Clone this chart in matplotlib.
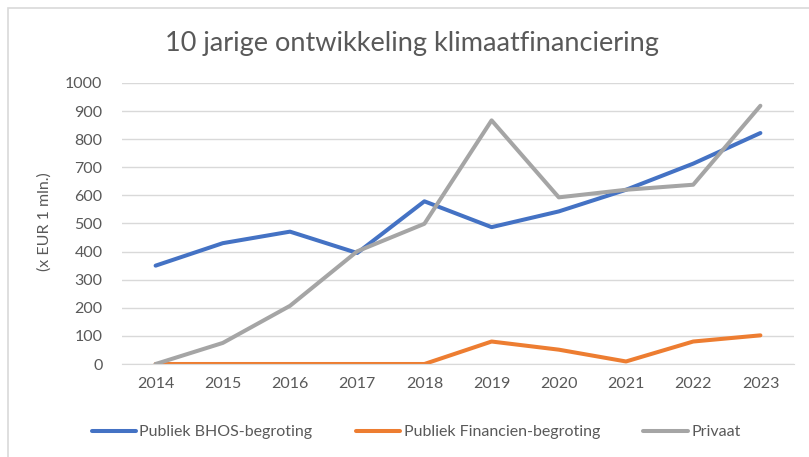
import numpy as np
from matplotlib import pyplot as plt
from matplotlib.patches import Rectangle

plt.rcParams['font.family'] = ['Lato', 'DejaVu Sans']

# Data (x EUR 1 mln.)
years = ['2014', '2015', '2016', '2017', '2018', '2019', '2020', '2021', '2022', '2023']
bhos = [350, 430, 471, 395, 579, 487, 543, 620, 713, 822]
financien = [0, 0, 0, 0, 0, 80, 51, 9, 80, 102]
privaat = [0, 75, 207, 401, 499, 867, 593, 620, 638, 919]

series_names = ['Publiek BHOS-begroting', 'Publiek Financien-begroting', 'Privaat']
colors = ['#4472C4', '#ED7D31', '#A5A5A5']

fig = plt.figure(figsize=(8.09, 4.57), dpi=100)
W, H = 809, 457

# chart frame (light border, cut off at right/bottom)
fig.patches.append(Rectangle((8 / W, -0.01), 1.0, (457 - 8) / H + 0.01,
                             transform=fig.transFigure, fill=False,
                             edgecolor='#D9D9D9', linewidth=1.2))

ax = fig.add_axes([122 / W, 1 - 364 / H, (794 - 122) / W, (364 - 83) / H])

x = np.arange(len(years))
for vals, name, c in zip([bhos, financien, privaat], series_names, colors):
    ax.plot(x, vals, color=c, linewidth=2.9, label=name, solid_capstyle='round',
            solid_joinstyle='round')

ax.set_xlim(-0.5, len(years) - 0.5)
ax.set_ylim(0, 1000)
ax.set_yticks(np.arange(0, 1001, 100))
ax.set_xticks(x)
ax.set_xticklabels(years)
ax.grid(axis='y', color='#D9D9D9', linewidth=1.0)
ax.set_axisbelow(True)
for side in ['top', 'right', 'left']:
    ax.spines[side].set_visible(False)
ax.spines['bottom'].set_color('#D9D9D9')
ax.tick_params(axis='both', length=0, labelsize=11.5, labelcolor='#595959')
ax.tick_params(axis='y', pad=14)
ax.tick_params(axis='x', pad=9)

fig.text(45 / W, 1 - 222 / H, '(x EUR 1 mln.)', rotation=90, ha='center', va='center',
         fontsize=11.5, color='#595959')
fig.text(412 / W, 1 - 44 / H, '10 jarige ontwikkeling klimaatfinanciering',
         ha='center', va='center', fontsize=19.5, color='#595959')

ax.legend(loc='center', bbox_to_anchor=(416 / W, 1 - 432 / H), bbox_transform=fig.transFigure,
          ncol=3, frameon=False, fontsize=11.5, labelcolor='#595959', handlelength=2.8,
          handletextpad=0.2, columnspacing=2.7)

fig.savefig('out.png', dpi=100)
